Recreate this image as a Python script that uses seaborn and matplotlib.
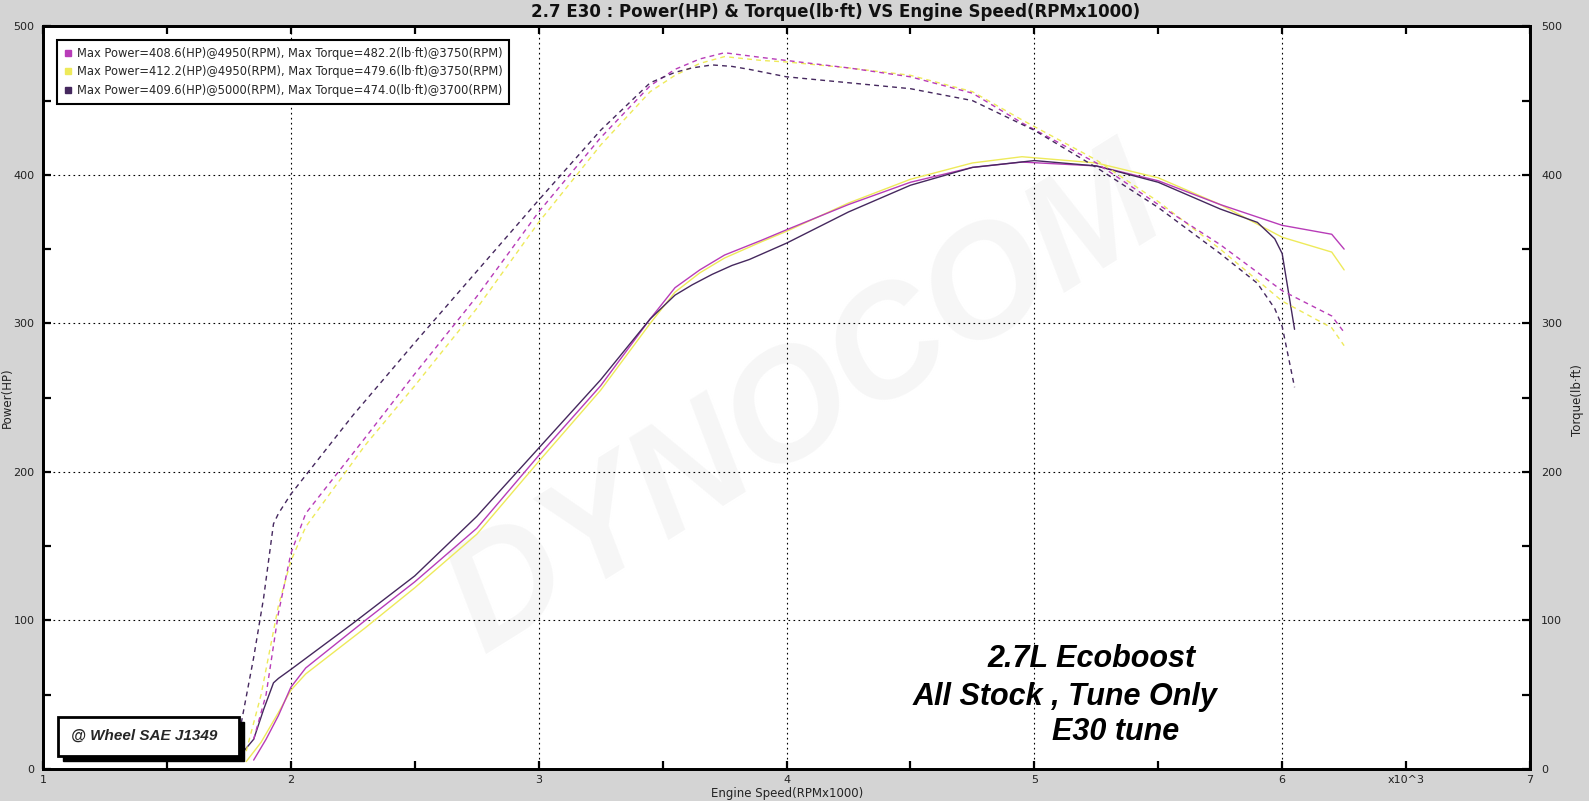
import numpy as np
import pandas as pd
import matplotlib
matplotlib.use("Agg")
import matplotlib.pyplot as plt
from matplotlib.lines import Line2D
from matplotlib.patches import Rectangle
import seaborn as sns

# ---------------- data (RPM x1000, HP, lb-ft) ----------------
run_names = ["run1", "run2", "run3"]
run_colors = ["#b83cb8", "#eeea5a", "#45285e"]

rpm1 = [1.85, 1.90, 1.95, 2.00, 2.06, 2.30, 2.50, 2.75, 3.00, 3.25, 3.45, 3.55, 3.65, 3.75,
        3.90, 4.00, 4.25, 4.50, 4.75, 4.95, 5.25, 5.50, 5.75, 6.00, 6.20, 6.25]
power1 = [6, 20, 36, 55, 68, 100, 126, 162, 211, 258, 303, 324, 336, 346,
          356, 363, 380, 395, 405, 408.6, 406, 396, 380, 366, 360, 350]
torque1 = [20, 50, 105, 145, 172, 223, 266, 318, 375, 425, 460, 471, 478, 482.2,
           479, 477, 472, 466, 455, 435, 408, 380, 353, 322, 305, 294]

rpm2 = [1.82, 1.88, 1.95, 2.00, 2.06, 2.30, 2.50, 2.75, 3.00, 3.25, 3.45, 3.55, 3.65, 3.75,
        3.90, 4.00, 4.25, 4.50, 4.75, 4.95, 5.25, 5.50, 5.75, 6.00, 6.20, 6.25]
power2 = [5, 18, 38, 53, 64, 95, 122, 158, 207, 255, 300, 321, 334, 344,
          355, 362, 381, 397, 408, 412.2, 408, 398, 380, 358, 348, 336]
torque2 = [12, 50, 110, 140, 163, 218, 258, 310, 368, 420, 456, 467, 475, 479.6,
           477, 476, 472, 467, 456, 437, 410, 382, 350, 315, 297, 285]

rpm3 = [1.80, 1.85, 1.89, 1.93, 1.95, 2.00, 2.25, 2.50, 2.75, 3.00, 3.25, 3.45, 3.55, 3.62,
        3.70, 3.78, 3.85, 4.00, 4.25, 4.50, 4.75, 5.00, 5.25, 5.50, 5.75, 5.90, 5.97, 6.00, 6.05]
power3 = [10, 20, 40, 58, 61, 67, 98, 130, 170, 216, 262, 303, 319, 326,
          333, 339, 343, 354, 375, 393, 405, 409.6, 406, 395, 377, 368, 357, 347, 296]
torque3 = [31, 75, 115, 165, 172, 185, 238, 287, 335, 383, 430, 462, 469, 472,
           474, 473, 471, 466, 462, 458, 450, 430, 405, 378, 347, 327, 310, 298, 257]

x_ticks = [1, 2, 3, 4, 5, 6, 7]
x_minor = [1.5, 2.5, 3.5, 4.5, 5.5, 6.5]
x_minor_labels = ["", "", "", "", "", "x10^3"]
y_ticks = [0, 100, 200, 300, 400, 500]

title_text = "2.7 E30 : Power(HP) & Torque(lb\u00b7ft) VS Engine Speed(RPMx1000)"
note_lines = ["2.7L Ecoboost", "All Stock , Tune Only", "E30 tune"]
box_text = "@ Wheel SAE J1349"

# ---------------- build long-form frame ----------------
frames = []
for name, r, p, t in zip(run_names, [rpm1, rpm2, rpm3], [power1, power2, power3],
                         [torque1, torque2, torque3]):
    frames.append(pd.DataFrame({"rpm": r, "power": p, "torque": t, "run": name}))
df = pd.concat(frames, ignore_index=True)

sns.set_theme(style="white")
plt.rcParams["font.family"] = ["DejaVu Sans"]

fig = plt.figure(figsize=(15.89, 8.01), dpi=100, facecolor="#d4d4d4")
ax = fig.add_axes([43 / 1589, 1 - 769 / 801, 1487 / 1589, 742.7 / 801])
ax.set_facecolor("white")
ax2 = ax.twinx()
ax2.patch.set_visible(False)

# watermark
ax.text(0.513, 0.49, "DYNOCOM", transform=ax.transAxes, rotation=32,
        fontsize=112, fontweight="bold", fontstyle="italic", color="#f6f6f6",
        ha="center", va="center", zorder=0, family=["Liberation Sans", "DejaVu Sans"])

draw_order = [1, 0, 2]
for i in draw_order:
    name = run_names[i]
    sub = df[df["run"] == name]
    sns.lineplot(data=sub, x="rpm", y="power", ax=ax, color=run_colors[i], lw=1.0,
                 sort=False, estimator=None, legend=False, zorder=3)
    sns.lineplot(data=sub, x="rpm", y="torque", ax=ax2, color=run_colors[i], lw=1.0,
                 sort=False, estimator=None, legend=False, zorder=3)
    ax2.lines[-1].set_linestyle((0, (3.5, 3)))

for a in (ax, ax2):
    a.set_xlim(1, 7)
    a.set_ylim(0, 500)
    a.set_xlabel("")
    a.set_ylabel("")

# ticks
ax.set_xticks(x_ticks)
ax.set_xticklabels([str(v) for v in x_ticks])
ax.set_xticks(x_minor, minor=True)
ax.set_xticklabels(x_minor_labels, minor=True)
ax.set_yticks(y_ticks)
ax.set_yticks([50, 150, 250, 350, 450], minor=True)
ax2.set_yticks(y_ticks)
ax2.set_yticks([50, 150, 250, 350, 450], minor=True)

tick_kw = dict(direction="in", colors="black", labelcolor="#222222", labelsize=8)
ax.tick_params(axis="x", which="both", top=True, bottom=True, length=6, width=1.6,
               pad=4, **tick_kw)
ax.tick_params(axis="y", which="both", left=True, right=False, length=6, width=1.6,
               pad=6, **tick_kw)
ax2.tick_params(axis="y", which="both", right=True, length=6, width=1.6, pad=8, **tick_kw)
ax2.tick_params(axis="x", which="both", length=0)

ax.grid(True, which="major", color="black", linestyle=(0, (1.5, 3)), linewidth=0.8)
ax.set_axisbelow(True)

for a in (ax, ax2):
    for s in a.spines.values():
        s.set_color("black")
        s.set_linewidth(2.0)
        s.set_visible(True)

# axis labels
fig.text(787 / 1589, 1 - 794 / 801, "Engine Speed(RPMx1000)", fontsize=8.5,
         color="#222222", ha="center", va="center")
fig.text(7 / 1589, 1 - 398 / 801, "Power(HP)", fontsize=8.5, rotation=90,
         color="#222222", ha="center", va="center")
fig.text(1578 / 1589, 1 - 400 / 801, "Torque(lb\u00b7ft)", fontsize=8.5, rotation=90,
         color="#222222", ha="center", va="center")

# title
fig.text(836 / 1589, 1 - 12 / 801, title_text, fontsize=12, fontweight="bold",
         ha="center", va="center", color="#111111")

# legend
handles = []
labels = []
for i, (r, p, t) in enumerate(zip([rpm1, rpm2, rpm3], [power1, power2, power3],
                                  [torque1, torque2, torque3])):
    pi = int(np.argmax(p))
    ti = int(np.argmax(t))
    labels.append(f"Max Power={p[pi]:.1f}(HP)@{r[pi]*1000:.0f}(RPM), "
                  f"Max Torque={t[ti]:.1f}(lb\u00b7ft)@{r[ti]*1000:.0f}(RPM)")
    handles.append(Line2D([], [], marker="s", linestyle="none", markersize=5,
                          markerfacecolor=run_colors[i], markeredgecolor=run_colors[i]))
leg = ax2.legend(handles, labels, loc="upper left", bbox_to_anchor=(0.0095, 0.982),
                 fontsize=8.3, frameon=True, fancybox=False, framealpha=1,
                 edgecolor="black", handlelength=0.6, handletextpad=0.5,
                 borderpad=0.6, labelspacing=0.5, borderaxespad=0)
leg.get_frame().set_linewidth(1.5)

# "@ Wheel" box with shadow
tr = ax.transAxes
def fx(px):
    return (px - 43) / 1487
def fy(py):
    return (769 - py) / 742.7
ax2.add_patch(Rectangle((fx(63), fy(761)), fx(244) - fx(63), fy(722) - fy(761),
                        transform=tr, facecolor="black", edgecolor="black", zorder=6,
                        clip_on=False))
ax2.add_patch(Rectangle((fx(57.5), fy(756)), fx(239) - fx(57.5), fy(717) - fy(756),
                        transform=tr, facecolor="white", edgecolor="black", lw=2,
                        zorder=7, clip_on=False))
ax2.text(fx(71), fy(736), box_text, transform=tr, fontsize=11, fontweight="bold",
         fontstyle="italic", ha="left", va="center", zorder=8,
         family=["Liberation Sans", "DejaVu Sans"])

# annotation lines
note_pos = [(5.23, 74), (5.125, 48.5), (5.33, 25)]
for txt, (xv, yv) in zip(note_lines, note_pos):
    ax.text(xv, yv, txt, fontsize=22, fontweight="bold", fontstyle="italic",
            ha="center", va="center", color="black", zorder=5,
            family=["Liberation Sans", "DejaVu Sans"])

fig.savefig("out.png", dpi=100, facecolor=fig.get_facecolor())
